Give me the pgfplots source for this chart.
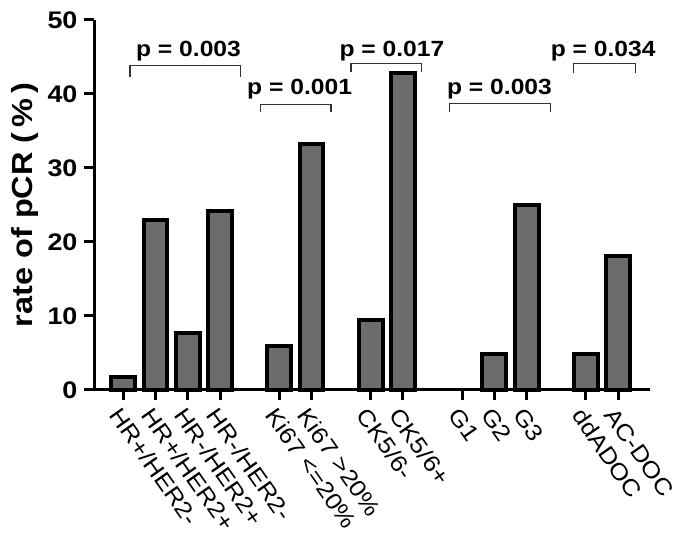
\documentclass[border=0pt]{standalone}
\usepackage{fontspec}
\setmainfont[FakeStretch=1.12]{Liberation Sans}
\usepackage{pgfplots}
\pgfplotsset{compat=1.18}
\definecolor{barfill}{RGB}{108,108,108}

\begin{document}
\begin{tikzpicture}
\begin{axis}[
    scale only axis,
    width=277.75pt, height=185pt,
    xmin=-0.89, xmax=16.31,
    ymin=0, ymax=50,
    axis x line=bottom, axis y line=left,
    axis line style={line width=1.5pt, -},
    clip=false,
    ytick={0,10,...,50},
    xtick={0,1,2,3,4.83,5.83,7.66,8.66,10.49,11.49,12.49,14.32,15.32},
    xticklabels={{HR+/HER2-},{HR+/HER2+},{HR-/HER2+},{HR-/HER2-},
        {Ki67 <=20\%},{Ki67 >20\%},{CK5/6-},{CK5/6+},{G1},{G2},{G3},
        {ddADOC},{AC-DOC}},
    tick align=outside,
    major tick length=5pt,
    tick style={line width=1.5pt, black},
    /pgf/number format/assume math mode=true,
    yticklabel style={font=\fontsize{12}{14}\selectfont\bfseries},
    xticklabel style={font=\fontsize{11.5}{13}\selectfont, rotate=-55,
        anchor=north west, inner sep=2pt},
    ylabel={rate of pCR (\,\%\,)},
    ylabel style={font=\fontsize{14.5}{16}\selectfont\bfseries,
        at={(axis description cs:-0.125,0.5)}, anchor=center},
]

% bars (G1 = 0, no bar drawn)
\addplot[ybar, bar width=0.74, bar shift=0pt, fill=barfill, draw=black,
    line width=2pt] coordinates {
    (0,1.8) (1,23.0) (2,7.7) (3,24.2)
    (4.83,5.9) (5.83,33.3)
    (7.66,9.4) (8.66,42.8)
    (11.49,4.9) (12.49,25.0)
    (14.32,4.9) (15.32,18.1)
};

% significance brackets
\draw[line width=0.6pt, black!80] (0.21,42.3) -- (0.21,43.8) -- (3.63,43.8) -- (3.63,42.3);
\draw[line width=0.6pt, black!80] (4.25,37.5) -- (4.25,38.6) -- (6.43,38.6) -- (6.43,37.5);
\draw[line width=0.6pt, black!80] (7.05,43.0) -- (7.05,44.1) -- (9.24,44.1) -- (9.24,43.0);
\draw[line width=0.6pt, black!80] (10.11,37.5) -- (10.11,38.7) -- (13.24,38.7) -- (13.24,37.5);
\draw[line width=0.6pt, black!80] (13.93,42.8) -- (13.93,44.1) -- (15.87,44.1) -- (15.87,42.8);

\node[font=\fontsize{11}{13}\selectfont\bfseries] at (2.02,45.8) {p = 0.003};
\node[font=\fontsize{11}{13}\selectfont\bfseries] at (5.46,40.7) {p = 0.001};
\node[font=\fontsize{11}{13}\selectfont\bfseries] at (8.32,45.8) {p = 0.017};
\node[font=\fontsize{11}{13}\selectfont\bfseries] at (11.65,40.7) {p = 0.003};
\node[font=\fontsize{11}{13}\selectfont\bfseries] at (14.86,45.8) {p = 0.034};

\end{axis}
\pgfresetboundingbox
\path[use as bounding box] ([shift={(-47.25pt,-74.5pt)}]current axis.south west)
    rectangle ([shift={(295.25pt,195pt)}]current axis.south west);
\end{tikzpicture}
\end{document}
